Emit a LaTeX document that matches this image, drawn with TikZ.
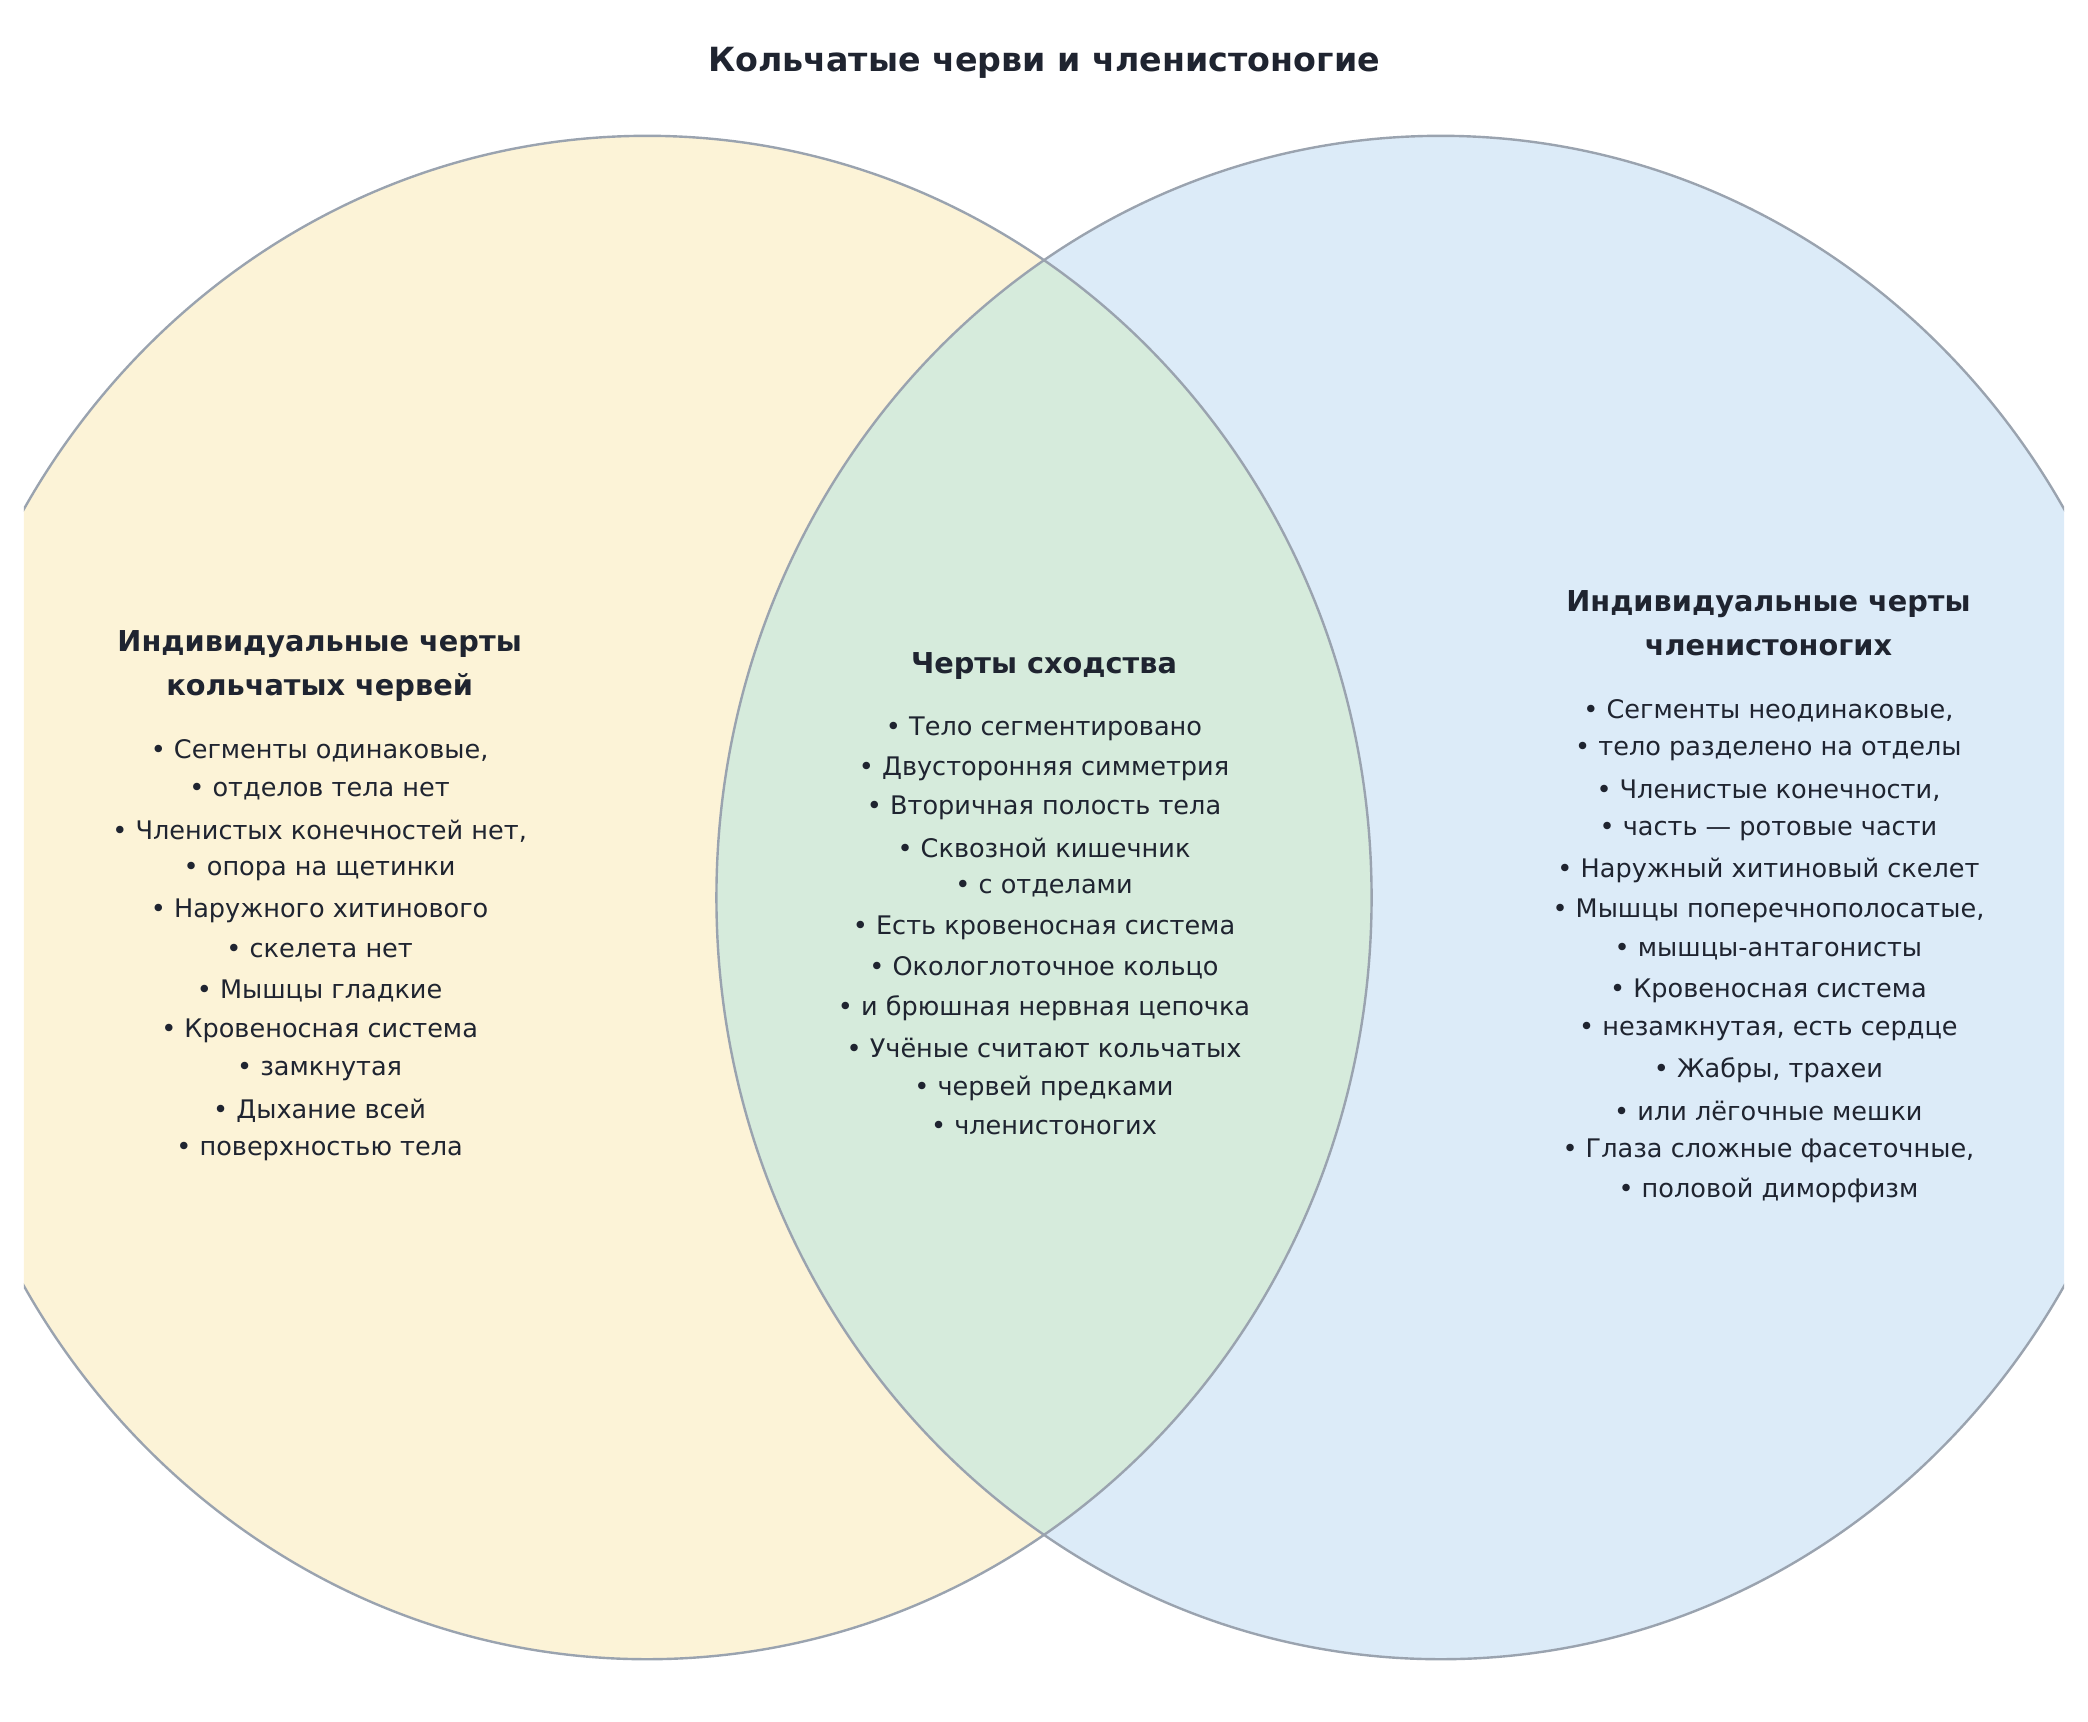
\documentclass[tikz,border=0pt]{standalone}
\usepackage{fontspec}
\setmainfont{DejaVu Sans}
\definecolor{worm}{HTML}{FCF3D7}
\definecolor{arthro}{HTML}{DCEBF8}
\definecolor{common}{HTML}{D6EBDC}
\definecolor{rim}{HTML}{9AA3AF}
\definecolor{ink}{HTML}{1F2430}
\tikzset{
  item/.style = {text=ink, font=\fontsize{9.6}{12}\selectfont, inner sep=0pt},
  head/.style = {text=ink, font=\fontsize{10.8}{12}\selectfont\bfseries, inner sep=0pt},
}
\begin{document}
\begin{tikzpicture}[x=0.5pt, y=-0.5pt]
    \useasboundingbox (0,0) rectangle (1568,1293);
    
    \begin{scope}
    \clip (18,0) rectangle (1550,1293);
    \fill [worm] (486,674) ellipse [x radius=544, y radius=572];
    \fill [arthro] (1082,674) ellipse [x radius=544, y radius=572];
    \begin{scope}
    \clip (486,674) ellipse [x radius=544, y radius=572];
    \fill [common] (1082,674) ellipse [x radius=544, y radius=572];
    \end{scope}
    \draw [rim, line width=0.9pt] (486,674) ellipse [x radius=544, y radius=572];
    \draw [rim, line width=0.9pt] (1082,674) ellipse [x radius=544, y radius=572];
    \end{scope}
    
    \node [head, font=\fontsize{12.5}{14}\selectfont\bfseries] (title) at (784,47) {Кольчатые черви и членистоногие};
    
    % worms
    \node [head] (wormA) at (240,484) {Индивидуальные черты};
    \node [head] (wormB) at (240,516) {кольчатых червей};
    \foreach \t [count=\i] in {Сегменты одинаковые{,}, отделов тела нет,
        Членистых конечностей нет{,}, опора на щетинки, Наружного хитинового,
        скелета нет, Мышцы гладкие, Кровеносная система, замкнутая,
        Дыхание всей, поверхностью тела}
        \node [item] (worm\i) at (240,{564+30*(\i-1)}) {• \t};
    
    % common
    \node [head] (commonA) at (784,500) {Черты сходства};
    \foreach \t [count=\i] in {Тело сегментировано, Двусторонняя симметрия,
        Вторичная полость тела, Сквозной кишечник, с отделами,
        Есть кровеносная система, Окологлоточное кольцо,
        и брюшная нервная цепочка, Учёные считают кольчатых,
        червей предками, членистоногих}
        \node [item] (common\i) at (784,{547+30*(\i-1)}) {• \t};
    
    % arthropods
    \node [head] (arthroA) at (1328,454) {Индивидуальные черты};
    \node [head] (arthroB) at (1328,486) {членистоногих};
    \foreach \t [count=\i] in {Сегменты неодинаковые{,}, тело разделено на отделы,
        Членистые конечности{,}, часть — ротовые части, Наружный хитиновый скелет,
        Мышцы поперечнополосатые{,}, мышцы-антагонисты, Кровеносная система,
        {незамкнутая, есть сердце}, {Жабры, трахеи}, или лёгочные мешки,
        Глаза сложные фасеточные{,}, половой диморфизм}
        \node [item] (arthro\i) at (1328,{534+30*(\i-1)}) {• \t};
\end{tikzpicture}
\end{document}
